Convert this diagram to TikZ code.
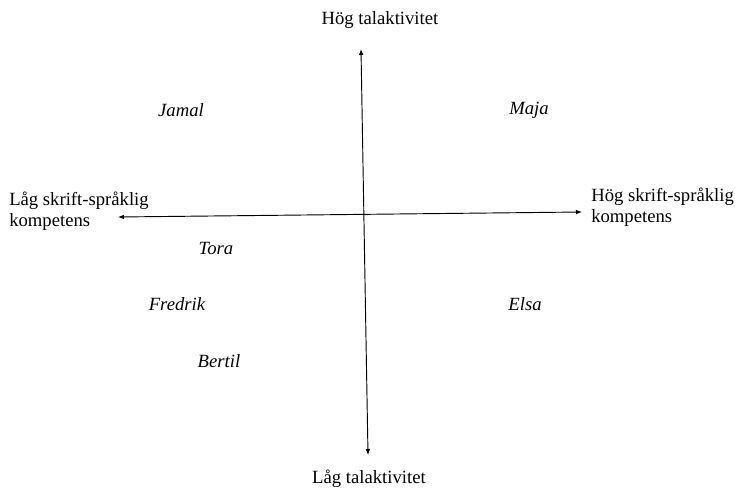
\documentclass[tikz,border=0pt]{standalone}
\usepackage{fontspec}
\setmainfont{Liberation Serif}
\usetikzlibrary{positioning, arrows.meta}

\begin{document}
\begin{tikzpicture}[x=0.75pt, y=-0.75pt,
    axislbl/.style={font=\fontsize{14}{16}\selectfont, inner sep=0pt},
    person/.style={font=\fontsize{14}{16}\selectfont\itshape, inner sep=0pt},
    axis/.style={line width=0.7pt, {Latex[length=4.5pt,width=3.5pt]}-{Latex[length=4.5pt,width=3.5pt]}}]
  \useasboundingbox (0,0) rectangle (735,489);
  % axis ends
  \coordinate (top) at (361,49);
  \coordinate (bottom) at (368,455);
  \coordinate (left) at (118,217);
  \coordinate (right) at (582,212);
  \draw[axis] (bottom) -- (top);
  \draw[axis] (left) -- (right);
  % axis labels
  \node[axislbl] (hogtal) at (380,20) {Hög talaktivitet};
  \node[axislbl] (lagtal) at (369,479) {Låg talaktivitet};
  \node[axislbl, align=left, anchor=west] (lagskr) at (9,211) {Låg skrift-språklig\\kompetens};
  \node[axislbl, align=left, anchor=west] (hogskr) at (591,207) {Hög skrift-språklig\\kompetens};
  % persons
  \foreach \nm/\px/\py in {
    Jamal/181/110,
    Maja/529/110,
    Tora/216/248,
    Fredrik/177/304,
    Elsa/525/304,
    Bertil/219/361}{
    \node[person] (\nm) at (\px,\py) {\nm};
  }
\end{tikzpicture}
\end{document}
